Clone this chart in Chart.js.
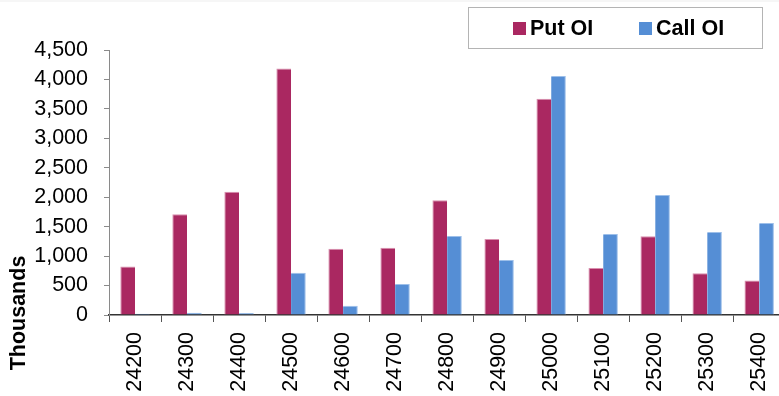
<!DOCTYPE html>
<html>
<head>
<meta charset="utf-8">
<script src="https://cdn.jsdelivr.net/npm/chart.js@4"></script>
<style>
  html, body { margin: 0; padding: 0; background: #fff; overflow: hidden; }
  #topband { position: absolute; left: 0; top: 0; width: 779px; height: 2px; background: #f6f6f6; }
  #wrap { position: absolute; left: 0; top: 0; width: 795px; height: 396px; }
</style>
</head>
<body>
<div id="wrap"><canvas id="oi_chart"></canvas></div>
<div id="topband"></div>
<script>
// strike prices and open interest (in thousands)
const strikes = ['24200', '24300', '24400', '24500', '24600', '24700', '24800',
                 '24900', '25000', '25100', '25200', '25300', '25400'];
const put_oi = [823, 1710, 2093, 4187, 1123, 1140, 1947, 1292, 3674, 796, 1337, 711, 586];
const call_oi = [22, 39, 35, 716, 157, 525, 1343, 936, 4057, 1377, 2037, 1410, 1563];
const y_max = 4500;
const y_step = 500;
const series_names = ['Put OI', 'Call OI'];
const axis_title = 'Thousands';

const put_color = '#AA2861';
const call_color = '#558ED5';
const font_family = '"Liberation Sans", Arial, sans-serif';

// boxed legend in the top right corner + rotated axis caption
const extrasPlugin = {
    id: 'extras',
    afterDraw(chart) {
        const ctx = chart.ctx;
        ctx.save();
        ctx.fillStyle = '#ffffff';
        ctx.fillRect(468, 7, 294, 41);
        ctx.strokeStyle = '#b4b4b4';
        ctx.lineWidth = 1;
        ctx.strokeRect(468.5, 7.5, 294, 41);

        ctx.font = 'bold 21.5px ' + font_family;
        ctx.textBaseline = 'middle';
        ctx.textAlign = 'left';
        const items = [
            { x: 513, color: put_color, text: series_names[0] },
            { x: 639, color: call_color, text: series_names[1] }
        ];
        items.forEach((it) => {
            ctx.fillStyle = it.color;
            ctx.fillRect(it.x, 22, 13, 13);
            ctx.fillStyle = '#000000';
            ctx.fillText(it.text, it.x + 17, 29);
        });

        ctx.translate(19, 313);
        ctx.rotate(-Math.PI / 2);
        ctx.textAlign = 'center';
        ctx.font = 'bold 21.5px ' + font_family;
        ctx.fillText(axis_title, 0, 0);
        ctx.restore();
    }
};

const graph_oi = document.getElementById('oi_chart').getContext('2d');

const chart_oi = new Chart(graph_oi, {
    type: 'bar',
    data: {
        labels: strikes,
        datasets: [{
            label: series_names[0],
            data: put_oi,
            backgroundColor: put_color,
            borderColor: '#d98fae',
            borderWidth: { top: 1, left: 1, right: 0, bottom: 0 },
            borderSkipped: 'bottom'
        }, {
            label: series_names[1],
            data: call_oi,
            backgroundColor: call_color,
            borderColor: '#9dbfe9',
            borderWidth: { top: 1, left: 0, right: 1, bottom: 0 },
            borderSkipped: 'bottom'
        }]
    },
    options: {
        responsive: true,
        maintainAspectRatio: false,
        animation: false,
        devicePixelRatio: 1,
        layout: { padding: { top: 50, left: 0, right: 0, bottom: 0 } },
        datasets: {
            bar: { categoryPercentage: 0.565, barPercentage: 1.0 }
        },
        plugins: {
            legend: { display: false },
            tooltip: { enabled: false }
        },
        scales: {
            x: {
                offset: true,
                grid: {
                    offset: true,
                    drawOnChartArea: false,
                    drawTicks: true,
                    tickLength: 7,
                    color: '#555555'
                },
                border: { display: true, color: '#333333', width: 1.5 },
                ticks: {
                    minRotation: 90,
                    maxRotation: 90,
                    padding: 10,
                    color: '#000000',
                    font: { family: font_family, size: 21.5 }
                },
                afterFit: (scale) => { scale.height = 81; }
            },
            y: {
                min: 0,
                max: y_max,
                grid: {
                    drawOnChartArea: false,
                    drawTicks: true,
                    tickLength: 5,
                    color: '#8a8a8a'
                },
                border: { display: true, color: '#8a8a8a', width: 1 },
                ticks: {
                    stepSize: y_step,
                    padding: 16,
                    color: '#000000',
                    font: { family: font_family, size: 21.5 },
                    callback: (v) => v.toLocaleString('en-US')
                },
                afterFit: (scale) => { scale.width = 109; }
            }
        }
    },
    plugins: [extrasPlugin]
});
</script>
</body>
</html>
